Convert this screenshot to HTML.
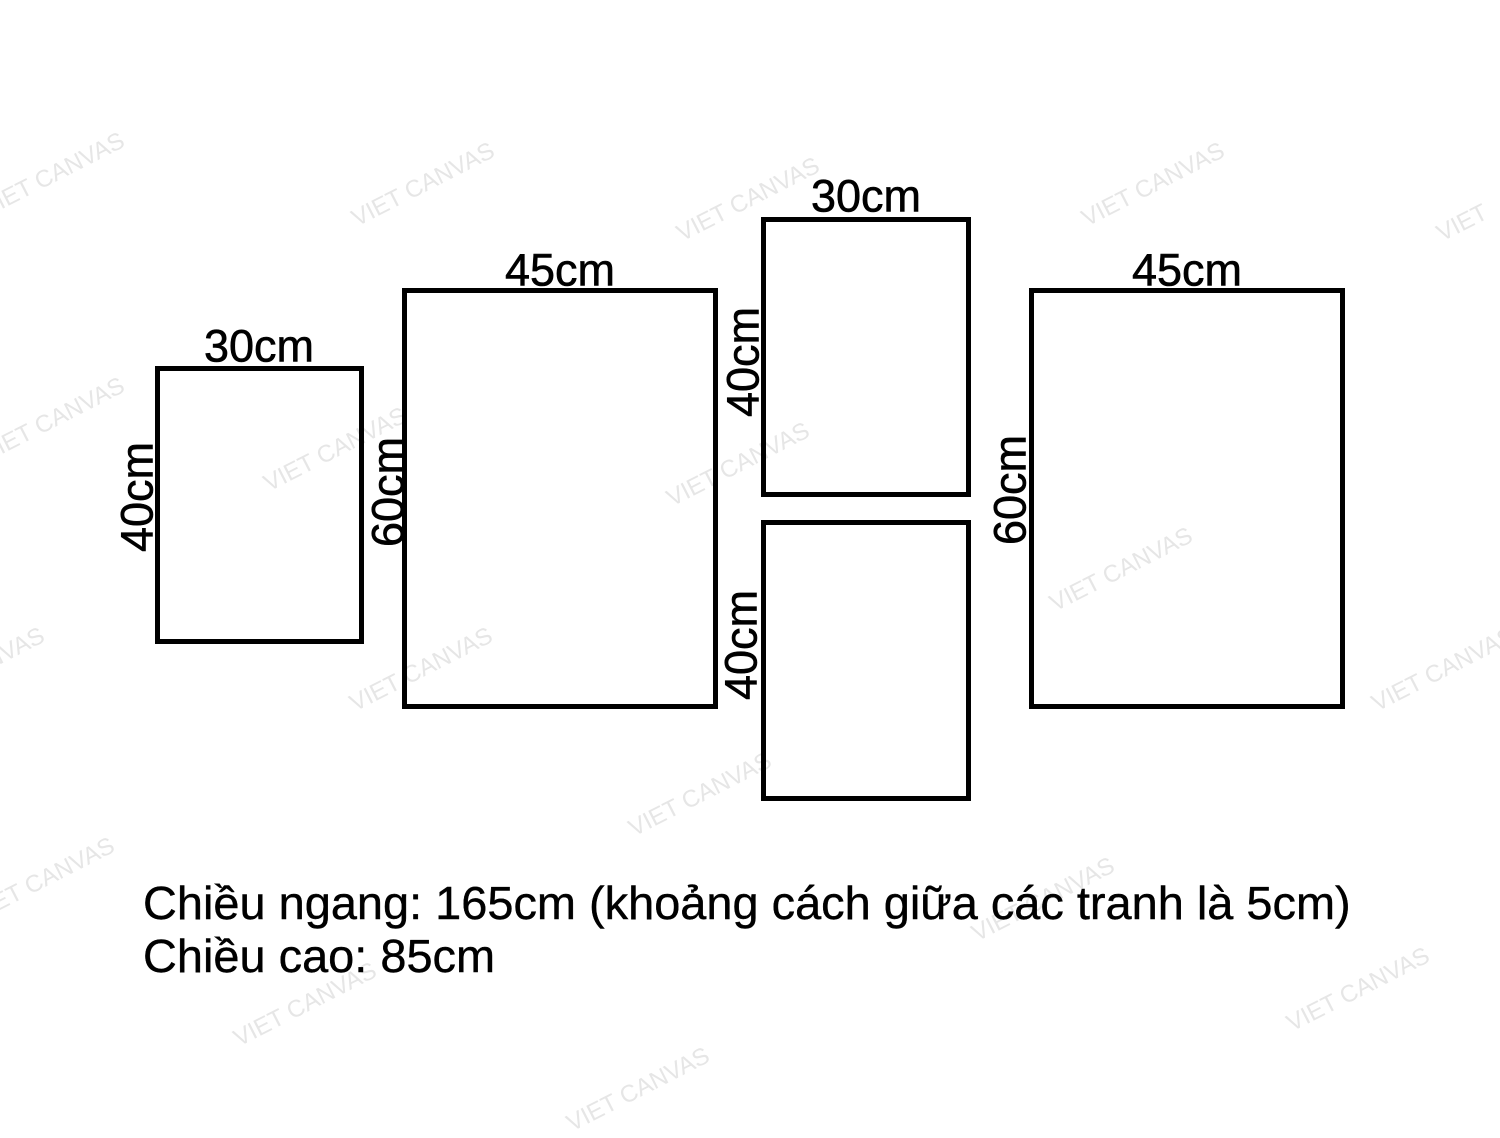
<!DOCTYPE html>
<html><head><meta charset="utf-8"><style>
body{margin:0;width:1500px;height:1125px;background:#fff;position:relative;overflow:hidden;font-family:"Liberation Sans",Arial,sans-serif}
.r{position:absolute;border:5px solid #000;box-sizing:border-box}
.t{position:absolute;font-size:45px;color:#000;line-height:1;white-space:nowrap;-webkit-text-stroke:0.6px #000}
.v{position:absolute;font-size:45px;line-height:1;white-space:nowrap;transform:translate(-50%,-50%) rotate(-90deg);-webkit-text-stroke:0.6px #000}
.h{transform:translate(-50%,-50%)}
.w{position:absolute;font-size:24px;color:#e6e6e6;white-space:nowrap;transform:rotate(-27deg);transform-origin:left bottom}
.b{position:absolute;left:143px;font-size:46px;line-height:1;white-space:nowrap;transform-origin:left center;transform:scaleX(1.02);-webkit-text-stroke:0.4px #000}
</style></head><body>
<div class="w" style="left:-10px;top:195px">VIET CANVAS</div>
<div class="w" style="left:360px;top:205px">VIET CANVAS</div>
<div class="w" style="left:685px;top:220px">VIET CANVAS</div>
<div class="w" style="left:1090px;top:205px">VIET CANVAS</div>
<div class="w" style="left:1445px;top:220px">VIET</div>
<div class="w" style="left:-10px;top:440px">VIET CANVAS</div>
<div class="w" style="left:272px;top:470px">VIET CANVAS</div>
<div class="w" style="left:675px;top:485px">VIET CANVAS</div>
<div class="w" style="left:1058px;top:590px">VIET CANVAS</div>
<div class="w" style="left:-90px;top:690px">VIET CANVAS</div>
<div class="w" style="left:358px;top:690px">VIET CANVAS</div>
<div class="w" style="left:1380px;top:690px">VIET CANVAS</div>
<div class="w" style="left:637px;top:815px">VIET CANVAS</div>
<div class="w" style="left:-20px;top:900px">VIET CANVAS</div>
<div class="w" style="left:980px;top:920px">VIET CANVAS</div>
<div class="w" style="left:242px;top:1025px">VIET CANVAS</div>
<div class="w" style="left:1295px;top:1010px">VIET CANVAS</div>
<div class="w" style="left:575px;top:1110px">VIET CANVAS</div>

<div class="r" style="left:155px;top:366px;width:209px;height:278px"></div>
<div class="r" style="left:402px;top:288px;width:316px;height:421px"></div>
<div class="r" style="left:761px;top:217px;width:210px;height:280px"></div>
<div class="r" style="left:761px;top:520px;width:210px;height:281px"></div>
<div class="r" style="left:1029px;top:288px;width:316px;height:421px"></div>

<div class="t h" style="left:259px;top:346px">30cm</div>
<div class="t h" style="left:560px;top:270px">45cm</div>
<div class="t h" style="left:866px;top:196px">30cm</div>
<div class="t h" style="left:1187px;top:270px">45cm</div>

<div class="v" style="left:137px;top:497px">40cm</div>
<div class="v" style="left:388px;top:492px">60cm</div>
<div class="v" style="left:743px;top:362px">40cm</div>
<div class="v" style="left:741px;top:645px">40cm</div>
<div class="v" style="left:1010px;top:490px">60cm</div>

<div class="b" style="top:880px">Chiều ngang: 165cm (khoảng cách giữa các tranh là 5cm)</div>
<div class="b" style="top:933px">Chiều cao: 85cm</div>
</body></html>
